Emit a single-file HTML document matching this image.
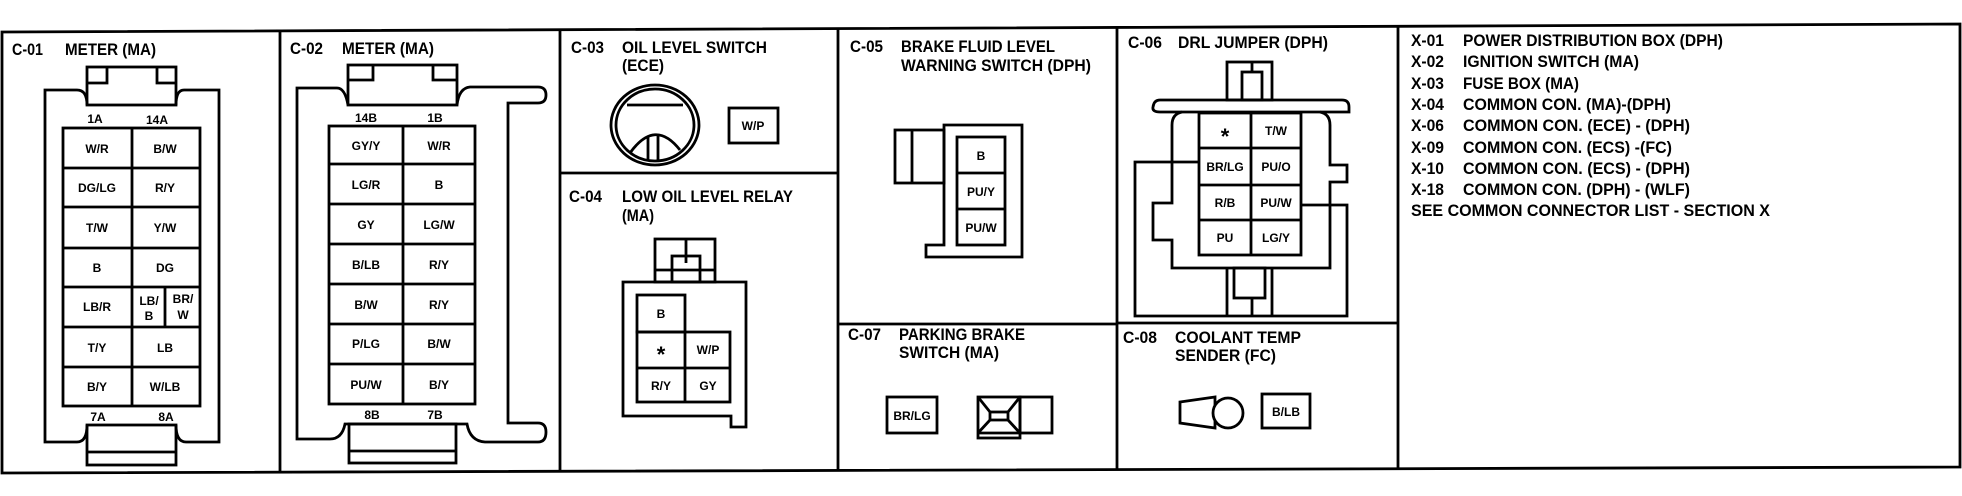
<!DOCTYPE html>
<html><head><meta charset="utf-8">
<style>
html,body{margin:0;padding:0;background:#fff;}
svg{display:block;}
text{font-family:"Liberation Sans",sans-serif;font-weight:bold;fill:#000;}
.t{font-size:16.5px;}
.c{font-size:12px;text-anchor:middle;}
</style></head><body>
<svg width="1962" height="496" viewBox="0 0 1962 496" xmlns="http://www.w3.org/2000/svg">
<g fill="none" stroke="#000" stroke-width="2.8" stroke-linejoin="miter">
<polygon points="2,32 1960,24 1960,467 2,473"/>
<line x1="280" y1="31" x2="280" y2="473"/>
<line x1="560" y1="30" x2="560" y2="472"/>
<line x1="838" y1="29" x2="838" y2="471"/>
<line x1="1117" y1="28" x2="1117" y2="470"/>
<line x1="1398" y1="27" x2="1398" y2="469"/>
<line x1="560" y1="173" x2="838" y2="173"/>
<line x1="838" y1="324" x2="1117" y2="324"/>
<line x1="1117" y1="323" x2="1398" y2="323"/>

<path d="M77,90 H45 V442 H77 Q87,442 87,425 M176,425 Q176,442 186,442 H219 V90 H184 Q176,90 176,105 M87,105 Q87,90 77,90"/>
<rect x="87" y="67" width="89" height="38"/>
<polyline points="87,83 107,83 107,67"/>
<polyline points="176,83 157,83 157,67"/>
<rect x="87" y="425" width="89" height="40"/>
<line x1="87" y1="452" x2="176" y2="452"/>
<rect x="63" y="128" width="137" height="278"/>
<line x1="132" y1="128" x2="132" y2="406"/>
<line x1="63" y1="168" x2="200" y2="168"/>
<line x1="63" y1="207" x2="200" y2="207"/>
<line x1="63" y1="248" x2="200" y2="248"/>
<line x1="63" y1="287" x2="200" y2="287"/>
<line x1="63" y1="327" x2="200" y2="327"/>
<line x1="63" y1="367" x2="200" y2="367"/>
<line x1="165" y1="287" x2="165" y2="327"/>

<path d="M337,88 H297 V439 H330 Q342,439 345,424 H467 Q470,441 485,442 H538 Q546,442 546,432 Q546,423 538,423 H508 V103 H538 Q546,103 546,95 Q546,87 538,87 H470 Q459,88 457,105 M348,105 Q345,88 337,88"/>
<rect x="348" y="65" width="109" height="40"/>
<polyline points="348,80 373,80 373,65"/>
<polyline points="457,80 433,80 433,65"/>
<rect x="349" y="424" width="107" height="39"/>
<line x1="349" y1="451" x2="456" y2="451"/>
<rect x="329" y="126" width="146" height="278"/>
<line x1="403" y1="126" x2="403" y2="404"/>
<line x1="329" y1="164" x2="475" y2="164"/>
<line x1="329" y1="204" x2="475" y2="204"/>
<line x1="329" y1="244" x2="475" y2="244"/>
<line x1="329" y1="284" x2="475" y2="284"/>
<line x1="329" y1="324" x2="475" y2="324"/>
<line x1="329" y1="364" x2="475" y2="364"/>

<ellipse cx="655" cy="125" rx="44" ry="40"/>
<ellipse cx="655" cy="125" rx="39" ry="36"/>
<line x1="627" y1="105" x2="683" y2="105"/>
<path d="M630,153 Q655,118 680,150"/>
<line x1="648" y1="136" x2="648" y2="161"/>
<line x1="658" y1="136" x2="658" y2="161"/>
<rect x="729" y="108" width="49" height="35"/>

<rect x="655" y="239" width="60" height="43"/>
<line x1="686" y1="239" x2="686" y2="263"/>
<rect x="672" y="256" width="28" height="26"/>
<line x1="655" y1="270" x2="715" y2="270"/>
<polygon points="623,282 746,282 746,427 731,427 731,416 623,416"/>
<rect x="637" y="295" width="48" height="37"/>
<rect x="637" y="332" width="93" height="70"/>
<line x1="637" y1="368" x2="730" y2="368"/>
<line x1="685" y1="332" x2="685" y2="402"/>

<rect x="895" y="130" width="49" height="53"/>
<line x1="912" y1="130" x2="912" y2="183"/>
<polygon points="944,125 1022,125 1022,257 926,257 926,245 944,245"/>
<rect x="957" y="137" width="48" height="108"/>
<line x1="957" y1="173" x2="1005" y2="173"/>
<line x1="957" y1="209" x2="1005" y2="209"/>

<rect x="887" y="397" width="50" height="36"/>
<rect x="978" y="397" width="42" height="41"/>
<line x1="978" y1="433" x2="1020" y2="433"/>
<rect x="1020" y="397" width="32" height="36"/>
<rect x="990" y="412" width="18" height="8"/>
<line x1="978" y1="397" x2="990" y2="412"/>
<line x1="1020" y1="397" x2="1008" y2="412"/>
<line x1="978" y1="433" x2="990" y2="420"/>
<line x1="1020" y1="433" x2="1008" y2="420"/>

<rect x="1227" y="62" width="45" height="38"/>
<line x1="1252" y1="62" x2="1252" y2="72"/>
<rect x="1242" y="72" width="20" height="28"/>
<path d="M1160,100 H1342 Q1349,100 1349,107 V112 H1160 Q1152,112 1153,107 Q1154,100 1160,100 Z"/>
<path d="M1182,112 Q1172,114 1172,125 V203 H1153 V240 H1172 V268 H1330 V182 H1347 V165 H1330 V125 Q1330,114 1320,112"/>
<polyline points="1199,162 1135,162 1135,316 1347,316 1347,205 1301,205"/>
<rect x="1199" y="113" width="102" height="142"/>
<line x1="1251" y1="113" x2="1251" y2="255"/>
<line x1="1199" y1="148" x2="1301" y2="148"/>
<line x1="1199" y1="185" x2="1301" y2="185"/>
<line x1="1199" y1="220" x2="1301" y2="220"/>
<polyline points="1227,268 1227,316"/>
<polyline points="1272,268 1272,316"/>
<rect x="1234" y="268" width="31" height="30"/>
<line x1="1252" y1="298" x2="1252" y2="316"/>

<polygon points="1180,402 1215,397 1215,428 1180,423"/>
<circle cx="1228" cy="413" r="15" fill="#fff"/>
<rect x="1262" y="394" width="48" height="34"/>
</g>

<text class="t" x="12" y="55" textLength="31" lengthAdjust="spacingAndGlyphs">C-01</text>
<text class="t" x="65" y="55" textLength="91" lengthAdjust="spacingAndGlyphs">METER (MA)</text>
<text class="t" x="290" y="54" textLength="33" lengthAdjust="spacingAndGlyphs">C-02</text>
<text class="t" x="342" y="54" textLength="92" lengthAdjust="spacingAndGlyphs">METER (MA)</text>
<text class="t" x="571" y="53" textLength="33" lengthAdjust="spacingAndGlyphs">C-03</text>
<text class="t" x="622" y="53" textLength="145" lengthAdjust="spacingAndGlyphs">OIL LEVEL SWITCH</text>
<text class="t" x="622" y="71" textLength="42" lengthAdjust="spacingAndGlyphs">(ECE)</text>
<text class="t" x="569" y="202" textLength="33" lengthAdjust="spacingAndGlyphs">C-04</text>
<text class="t" x="622" y="202" textLength="171" lengthAdjust="spacingAndGlyphs">LOW OIL LEVEL RELAY</text>
<text class="t" x="622" y="221" textLength="32" lengthAdjust="spacingAndGlyphs">(MA)</text>
<text class="t" x="850" y="52" textLength="33" lengthAdjust="spacingAndGlyphs">C-05</text>
<text class="t" x="901" y="52" textLength="154" lengthAdjust="spacingAndGlyphs">BRAKE FLUID LEVEL</text>
<text class="t" x="901" y="71" textLength="190" lengthAdjust="spacingAndGlyphs">WARNING SWITCH (DPH)</text>
<text class="t" x="848" y="340" textLength="33" lengthAdjust="spacingAndGlyphs">C-07</text>
<text class="t" x="899" y="340" textLength="126" lengthAdjust="spacingAndGlyphs">PARKING BRAKE</text>
<text class="t" x="899" y="358" textLength="100" lengthAdjust="spacingAndGlyphs">SWITCH (MA)</text>
<text class="t" x="1128" y="48" textLength="34" lengthAdjust="spacingAndGlyphs">C-06</text>
<text class="t" x="1178" y="48" textLength="150" lengthAdjust="spacingAndGlyphs">DRL JUMPER (DPH)</text>
<text class="t" x="1123" y="343" textLength="34" lengthAdjust="spacingAndGlyphs">C-08</text>
<text class="t" x="1175" y="343" textLength="126" lengthAdjust="spacingAndGlyphs">COOLANT TEMP</text>
<text class="t" x="1175" y="361" textLength="101" lengthAdjust="spacingAndGlyphs">SENDER (FC)</text>

<text class="t" x="1411" y="46" textLength="33" lengthAdjust="spacingAndGlyphs">X-01</text>
<text class="t" x="1463" y="46" textLength="260" lengthAdjust="spacingAndGlyphs">POWER DISTRIBUTION BOX (DPH)</text>
<text class="t" x="1411" y="67" textLength="33" lengthAdjust="spacingAndGlyphs">X-02</text>
<text class="t" x="1463" y="67" textLength="176" lengthAdjust="spacingAndGlyphs">IGNITION SWITCH (MA)</text>
<text class="t" x="1411" y="89" textLength="33" lengthAdjust="spacingAndGlyphs">X-03</text>
<text class="t" x="1463" y="89" textLength="116" lengthAdjust="spacingAndGlyphs">FUSE BOX (MA)</text>
<text class="t" x="1411" y="110" textLength="33" lengthAdjust="spacingAndGlyphs">X-04</text>
<text class="t" x="1463" y="110" textLength="208" lengthAdjust="spacingAndGlyphs">COMMON CON. (MA)-(DPH)</text>
<text class="t" x="1411" y="131" textLength="33" lengthAdjust="spacingAndGlyphs">X-06</text>
<text class="t" x="1463" y="131" textLength="227" lengthAdjust="spacingAndGlyphs">COMMON CON. (ECE) - (DPH)</text>
<text class="t" x="1411" y="153" textLength="33" lengthAdjust="spacingAndGlyphs">X-09</text>
<text class="t" x="1463" y="153" textLength="209" lengthAdjust="spacingAndGlyphs">COMMON CON. (ECS) -(FC)</text>
<text class="t" x="1411" y="174" textLength="33" lengthAdjust="spacingAndGlyphs">X-10</text>
<text class="t" x="1463" y="174" textLength="227" lengthAdjust="spacingAndGlyphs">COMMON CON. (ECS) - (DPH)</text>
<text class="t" x="1411" y="195" textLength="33" lengthAdjust="spacingAndGlyphs">X-18</text>
<text class="t" x="1463" y="195" textLength="227" lengthAdjust="spacingAndGlyphs">COMMON CON. (DPH) - (WLF)</text>
<text class="t" x="1411" y="216" textLength="359" lengthAdjust="spacingAndGlyphs">SEE COMMON CONNECTOR LIST - SECTION X</text>

<g>
<text class="c" x="95" y="123">1A</text><text class="c" x="157" y="124">14A</text>
<text class="c" x="97" y="153">W/R</text><text class="c" x="165" y="153">B/W</text>
<text class="c" x="97" y="192">DG/LG</text><text class="c" x="165" y="192">R/Y</text>
<text class="c" x="97" y="232">T/W</text><text class="c" x="165" y="232">Y/W</text>
<text class="c" x="97" y="272">B</text><text class="c" x="165" y="272">DG</text>
<text class="c" x="97" y="311">LB/R</text>
<text class="c" x="149" y="305">LB/</text><text class="c" x="149" y="320">B</text>
<text class="c" x="183" y="303">BR/</text><text class="c" x="183" y="319">W</text>
<text class="c" x="97" y="352">T/Y</text><text class="c" x="165" y="352">LB</text>
<text class="c" x="97" y="391">B/Y</text><text class="c" x="165" y="391">W/LB</text>
<text class="c" x="98" y="421">7A</text><text class="c" x="166" y="421">8A</text>

<text class="c" x="366" y="122">14B</text><text class="c" x="435" y="122">1B</text>
<text class="c" x="366" y="150">GY/Y</text><text class="c" x="439" y="150">W/R</text>
<text class="c" x="366" y="189">LG/R</text><text class="c" x="439" y="189">B</text>
<text class="c" x="366" y="229">GY</text><text class="c" x="439" y="229">LG/W</text>
<text class="c" x="366" y="269">B/LB</text><text class="c" x="439" y="269">R/Y</text>
<text class="c" x="366" y="309">B/W</text><text class="c" x="439" y="309">R/Y</text>
<text class="c" x="366" y="348">P/LG</text><text class="c" x="439" y="348">B/W</text>
<text class="c" x="366" y="389">PU/W</text><text class="c" x="439" y="389">B/Y</text>
<text class="c" x="372" y="419">8B</text><text class="c" x="435" y="419">7B</text>

<text class="c" x="753" y="130">W/P</text>

<text class="c" x="661" y="318">B</text>
<text class="c" x="661" y="362" style="font-size:22px">*</text>
<text class="c" x="708" y="354">W/P</text>
<text class="c" x="661" y="390">R/Y</text>
<text class="c" x="708" y="390">GY</text>

<text class="c" x="981" y="160">B</text>
<text class="c" x="981" y="196">PU/Y</text>
<text class="c" x="981" y="232">PU/W</text>

<text class="c" x="912" y="420">BR/LG</text>

<text class="c" x="1225" y="144" style="font-size:22px">*</text>
<text class="c" x="1276" y="135">T/W</text>
<text class="c" x="1225" y="171">BR/LG</text>
<text class="c" x="1276" y="171">PU/O</text>
<text class="c" x="1225" y="207">R/B</text>
<text class="c" x="1276" y="207">PU/W</text>
<text class="c" x="1225" y="242">PU</text>
<text class="c" x="1276" y="242">LG/Y</text>

<text class="c" x="1286" y="416">B/LB</text>
</g>
</svg>
</body></html>
